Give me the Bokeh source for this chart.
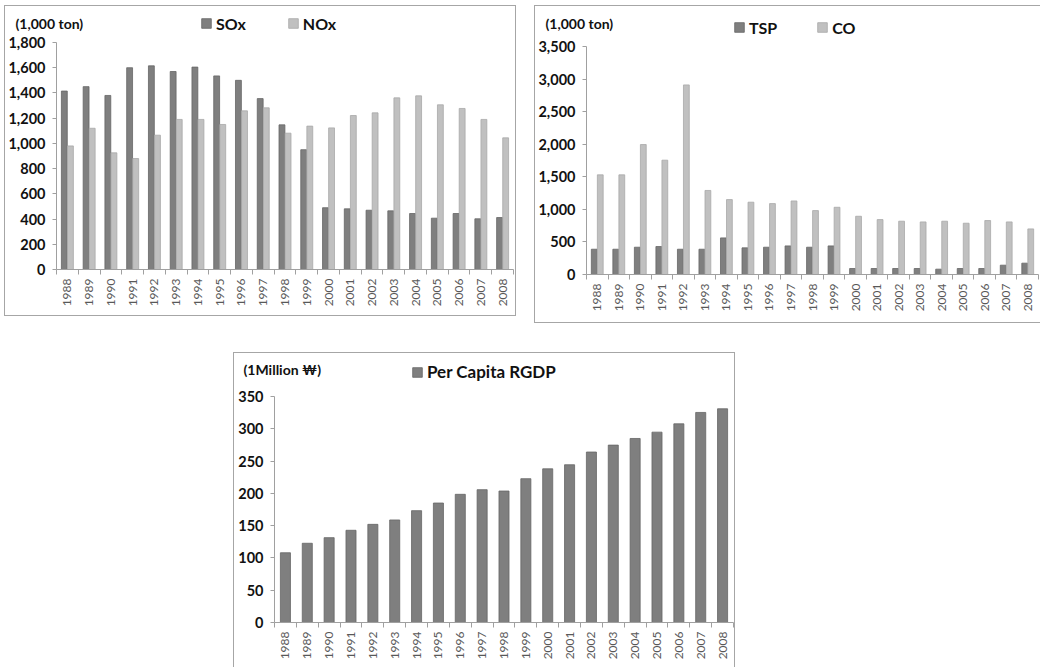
import math
from bokeh.plotting import figure
from bokeh.models import (Range1d, LinearAxis, FixedTicker, NumeralTickFormatter, Legend,
                          LegendItem, Label, Spacer, CustomJSTickFormatter, ColumnDataSource)
from bokeh.layouts import column, row
from bokeh.transform import dodge
from bokeh.embed import file_html
from bokeh.resources import INLINE

years = [str(y) for y in range(1988, 2009)]

sox = [1415, 1450, 1380, 1600, 1615, 1570, 1605, 1535, 1500, 1355, 1147, 950,
       490, 481, 470, 465, 444, 407, 444, 402, 412]
nox = [980, 1120, 925, 880, 1065, 1190, 1190, 1150, 1258, 1282, 1081, 1137,
       1123, 1221, 1242, 1361, 1377, 1306, 1277, 1190, 1044]

tsp = [388, 388, 419, 429, 388, 388, 562, 409, 419, 439, 419, 439,
       92, 92, 92, 92, 82, 92, 92, 143, 174]
co = [1530, 1530, 1995, 1755, 2910, 1290, 1150, 1110, 1088, 1129, 981, 1032,
      894, 843, 818, 807, 818, 787, 828, 807, 700]

rgdp = [108, 122.7, 131.4, 142.8, 152, 158.8, 173.2, 185, 198.5, 205.7, 203.6, 222.7,
        238, 244.3, 264, 274.7, 285, 294.8, 307.7, 325.3, 331]

ticks_top_left = [0, 200, 400, 600, 800, 1000, 1200, 1400, 1600, 1800]
ticks_top_right = [0, 500, 1000, 1500, 2000, 2500, 3000, 3500]
ticks_bottom = [0, 50, 100, 150, 200, 250, 300, 350]

unit_ton = "(1,000 ton)"
unit_won = "(1Million \u20a9)"

DARK = "#7f7f7f"
DARK_LINE = "#666666"
LIGHT = "#c0c0c0"
LIGHT_LINE = "#a8a8a8"
AXIS = "#a0a0a0"
FONT = "Lato"
BORDER = "1px solid #a6a6a6"

# category slots: one unit per year, label in the middle, tick marks at the boundaries
slot_center = [i + 0.5 for i in range(len(years))]
slot_bounds = list(range(len(years) + 1))


def make_chart(width, height, left, right, top, bottom, yticks):
    p = figure(x_range=Range1d(0, len(years)),
               y_range=Range1d(yticks[0], yticks[-1]),
               width=width, height=height, output_backend="svg", toolbar_location=None,
               x_axis_location=None, y_axis_location=None, frame_align=False,
               min_border_left=left, min_border_right=right,
               min_border_top=top, min_border_bottom=bottom)
    p.title.visible = False
    p.outline_line_color = None
    p.xgrid.visible = False
    p.ygrid.visible = False
    p.background_fill_color = "white"
    p.border_fill_color = "white"

    yaxis = LinearAxis(ticker=FixedTicker(ticks=yticks),
                       formatter=NumeralTickFormatter(format="0,0"))
    yaxis.axis_line_color = AXIS
    yaxis.major_tick_line_color = AXIS
    yaxis.major_tick_out = 4
    yaxis.major_tick_in = 0
    yaxis.minor_tick_line_color = None
    yaxis.major_label_standoff = 7
    yaxis.major_label_text_font = FONT
    yaxis.major_label_text_font_style = "bold"
    yaxis.major_label_text_font_size = "14.5px"
    yaxis.major_label_text_color = "#111111"
    p.add_layout(yaxis, "left")

    xaxis = LinearAxis(ticker=FixedTicker(ticks=slot_center, minor_ticks=slot_bounds),
                       formatter=CustomJSTickFormatter(
                           args=dict(labels=years),
                           code="return labels[Math.floor(tick)];"))
    xaxis.axis_line_color = AXIS
    xaxis.major_tick_line_color = None
    xaxis.minor_tick_line_color = AXIS
    xaxis.minor_tick_out = 5
    xaxis.minor_tick_in = 0
    xaxis.major_tick_out = 5
    xaxis.major_tick_in = 0
    xaxis.major_label_orientation = math.pi / 2
    xaxis.major_label_standoff = 4
    xaxis.major_label_text_font = FONT
    xaxis.major_label_text_font_size = "12px"
    xaxis.major_label_text_color = "#595959"
    p.add_layout(xaxis, "below")
    return p


def make_header(width, height, unit_text, unit_xy, series, legend_xy, legend_size, spacing):
    """Strip above a chart holding the unit note and the legend (pixel coordinates)."""
    h = figure(x_range=Range1d(0, width), y_range=Range1d(0, height),
               width=width, height=height, output_backend="svg", toolbar_location=None,
               x_axis_location=None, y_axis_location=None, min_border=0, frame_align=False)
    h.title.visible = False
    h.outline_line_color = None
    h.grid.visible = False
    h.background_fill_color = "white"
    h.border_fill_color = "white"

    h.add_layout(Label(x=unit_xy[0], y=unit_xy[1], text=unit_text,
                       text_font=FONT, text_font_style="bold", text_font_size="14px",
                       text_color="#111111", text_baseline="middle", text_align="left"))

    items = []
    for name, fill, line in series:
        # legend swatch source: a single zero-height bar kept outside the visible strip
        r = h.vbar(x=[-10], top=[0], width=1, fill_color=fill, line_color=line,
                   line_width=0.8)
        items.append(LegendItem(label=name, renderers=[r]))
    leg = Legend(items=items, orientation="horizontal", location=legend_xy,
                 glyph_width=12, glyph_height=12, label_height=16, label_standoff=4,
                 spacing=spacing, padding=0, margin=0,
                 border_line_color=None, background_fill_alpha=0,
                 label_text_font=FONT, label_text_font_style="bold",
                 label_text_font_size=legend_size, label_text_color="#111111")
    h.add_layout(leg, "center")
    return h


# ---- top-left: SOx / NOx ----
h1 = make_header(510, 27, unit_ton, (10, 10.5),
                 [("SOx", DARK, DARK_LINE), ("NOx", LIGHT, LIGHT_LINE)], (195, 0.5), "16px", 41)
p1 = make_chart(510, 282, 50, 2, 9, 46, ticks_top_left)
src1 = ColumnDataSource(dict(x=slot_center, year=years, sox=sox, nox=nox))
p1.vbar(x=dodge("x", -0.14), top="sox", width=0.27, source=src1,
        fill_color=DARK, line_color=DARK_LINE, line_width=0.8)
p1.vbar(x=dodge("x", 0.14), top="nox", width=0.27, source=src1,
        fill_color=LIGHT, line_color=LIGHT_LINE, line_width=0.8)
panel1 = column(h1, p1, styles={"border": BORDER})

# ---- top-right: TSP / CO ----
h2 = make_header(505, 31, unit_ton, (10, 14),
                 [("TSP", DARK, DARK_LINE), ("CO", LIGHT, LIGHT_LINE)], (198, 0.5), "16px", 39)
p2 = make_chart(505, 285, 50, 2, 9, 48, ticks_top_right)
src2 = ColumnDataSource(dict(x=slot_center, year=years, tsp=tsp, co=co))
p2.vbar(x=dodge("x", -0.14), top="tsp", width=0.27, source=src2,
        fill_color=DARK, line_color=DARK_LINE, line_width=0.8)
p2.vbar(x=dodge("x", 0.14), top="co", width=0.27, source=src2,
        fill_color=LIGHT, line_color=LIGHT_LINE, line_width=0.8)
panel2 = column(h2, p2, styles={"border-top": BORDER, "border-left": BORDER,
                                "border-bottom": BORDER})

# ---- bottom: Per Capita RGDP ----
h3 = make_header(500, 33, unit_won, (9, 17),
                 [("Per Capita RGDP", DARK, DARK_LINE)], (177, 4), "17px", 0)
p3 = make_chart(500, 281, 40, 1, 10, 45, ticks_bottom)
src3 = ColumnDataSource(dict(x=slot_center, year=years, rgdp=rgdp))
p3.vbar(x="x", top="rgdp", width=0.46, source=src3,
        fill_color=DARK, line_color=DARK_LINE, line_width=0.8)
panel3 = column(h3, p3, styles={"border-top": BORDER, "border-left": BORDER,
                                "border-right": BORDER})

layout = column(Spacer(width=10, height=5),
                row(Spacer(width=4, height=10), panel1, Spacer(width=18, height=10), panel2),
                Spacer(width=10, height=29),
                row(Spacer(width=233, height=10), panel3))

open("out.html", "w").write(file_html(layout, INLINE))
